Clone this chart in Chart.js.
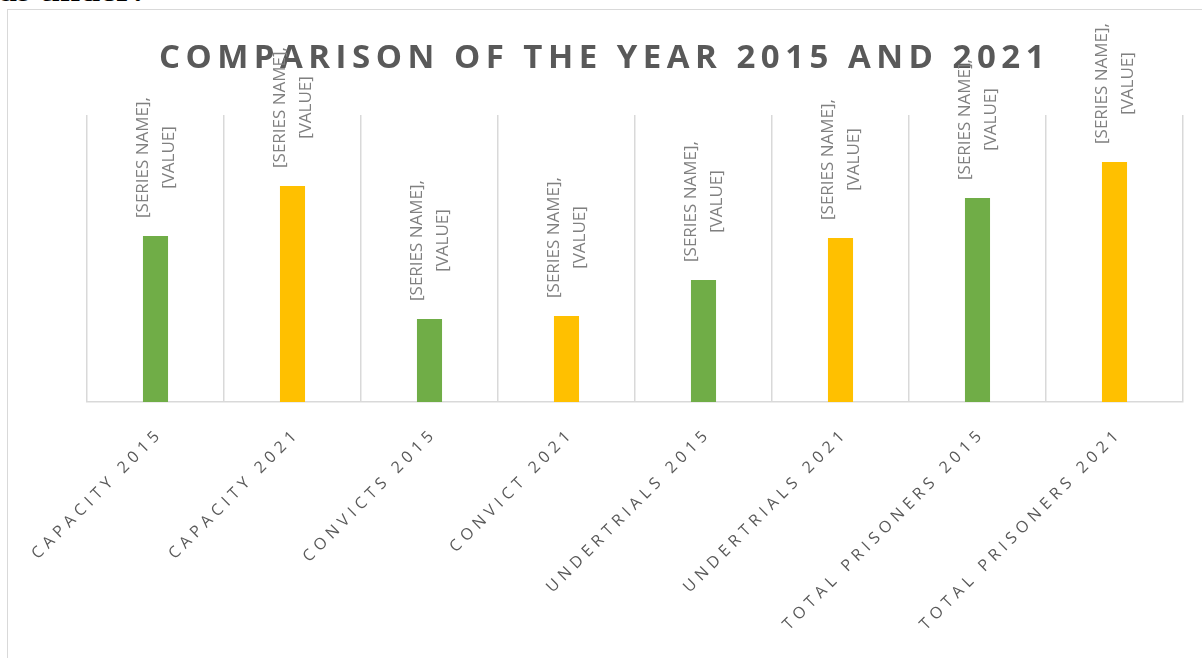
<!DOCTYPE html>
<html>
<head>
<meta charset="utf-8">
<script src="https://cdn.jsdelivr.net/npm/chart.js@4.4.1/dist/chart.umd.min.js"></script>
<style>
  html, body { margin: 0; padding: 0; background: #fff; overflow: hidden; }
  body { width: 1202px; height: 658px; position: relative; }
  #intro { position: absolute; left: -1px; top: -29px; font: bold 36px "Liberation Serif"; line-height: 36px; color: #000; white-space: nowrap; }
  #frame { position: absolute; left: 7px; top: 9px; width: 1240px; height: 700px; border: 1.5px solid #d9d9d9; box-sizing: border-box; }
  #wrap { position: absolute; left: 0; top: 0; width: 1202px; height: 658px; }
</style>
</head>
<body>
<div id="intro">as under:</div>
<div id="frame"></div>
<div id="wrap"><canvas id="chart"></canvas></div>
<script>
const categories = [
  "CAPACITY 2015", "CAPACITY 2021", "CONVICTS 2015", "CONVICT 2021",
  "UNDERTRIALS 2015", "UNDERTRIALS 2021", "TOTAL PRISONERS 2015", "TOTAL PRISONERS 2021",
];
const values = [166, 216, 83, 86, 122, 164, 204, 240];
const years = [2015, 2021, 2015, 2021, 2015, 2021, 2015, 2021];
const labelLines = ["[SERIES NAME],", "[VALUE]"];
const titleText = "COMPARISON OF THE YEAR 2015 AND 2021";
const yMax = 287;

const yearColors = { 2015: "#70ad47", 2021: "#ffc000" };

// excel-style rotated data labels, drawn above each bar
const barLabels = {
  id: "barLabels",
  beforeDraw(chart) {
    chart.ctx.letterSpacing = "5.5px";
  },
  afterDatasetsDraw(chart) {
    const ctx = chart.ctx;
    const meta = chart.getDatasetMeta(0);
    ctx.save();
    ctx.letterSpacing = "0px";
    ctx.font = '17px "Open Sans"';
    ctx.fillStyle = "#808080";
    ctx.textBaseline = "middle";
    ctx.textAlign = "center";
    const w = Math.max(...labelLines.map((t) => ctx.measureText(t).width));
    meta.data.forEach((bar) => {
      let bottom = bar.y - 18;
      if (bottom - w < 18) bottom = 18 + w;
      ctx.save();
      ctx.translate(bar.x + 1, bottom - w / 2);
      ctx.rotate(-Math.PI / 2);
      labelLines.forEach((t, i) => {
        ctx.fillText(t, 0, (i - (labelLines.length - 1) / 2) * 26);
      });
      ctx.restore();
    });
    ctx.restore();
    ctx.letterSpacing = "5px";
  },
  afterDraw(chart) {
    chart.ctx.letterSpacing = "0px";
  },
};

new Chart(document.getElementById("chart"), {
  type: "bar",
  data: {
    labels: categories,
    datasets: [
      {
        data: values,
        backgroundColor: years.map((y) => yearColors[y]),
        barPercentage: 0.183,
        categoryPercentage: 1,
      },
    ],
  },
  options: {
    responsive: true,
    maintainAspectRatio: false,
    animation: false,
    layout: { padding: { left: 26, right: 19, top: 39, bottom: 0 } },
    plugins: {
      legend: { display: false },
      tooltip: { enabled: false },
      title: {
        display: true,
        text: titleText,
        color: "#595959",
        font: { family: "Open Sans", size: 33, weight: "bold" },
        padding: { top: 0, bottom: 36.4 },
      },
    },
    scales: {
      x: {
        grid: { color: "#d9d9d9", lineWidth: 1.5, drawTicks: false },
        border: { color: "#d9d9d9", width: 1.5 },
        ticks: {
          color: "#595959",
          font: { family: "Open Sans", size: 16 },
          minRotation: 45,
          maxRotation: 45,
          autoSkip: false,
          padding: 22,
          labelOffset: 5,
          z: 1,
        },
        afterFit: (scale) => { scale.height = 256; },
      },
      y: {
        min: 0,
        max: yMax,
        grid: { display: false },
        border: { display: false },
        ticks: { display: false },
        afterFit: (scale) => { scale.width = 61; },
      },
    },
  },
  plugins: [barLabels],
});
</script>
</body>
</html>
